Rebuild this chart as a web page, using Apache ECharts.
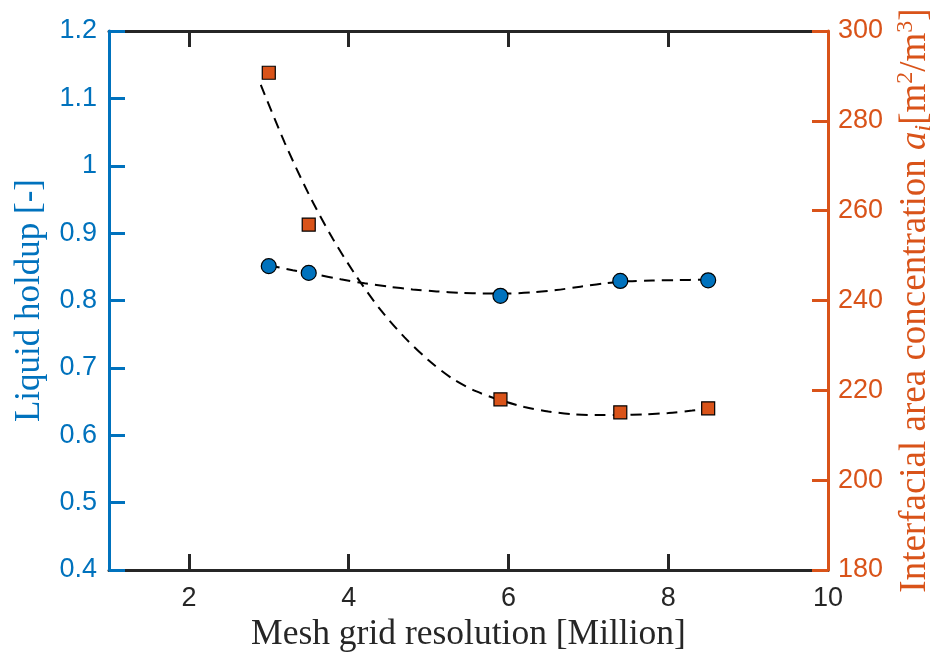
<!DOCTYPE html>
<html>
<head>
<meta charset="utf-8">
<script src="https://cdn.jsdelivr.net/npm/echarts@6/dist/echarts.min.js"></script>
<style>
html,body{margin:0;padding:0;background:#fff;}
#chart{width:931px;height:656px;}
</style>
</head>
<body>
<div id="chart"></div>
<script>
// Measured points
const meshX = [3, 3.5, 5.9, 7.4, 8.5];
const holdup = [0.851, 0.841, 0.807, 0.829, 0.830];
const interfacialArea = [290.7, 256.9, 218.0, 215.1, 216.0];

// Dashed fit curves
const holdupFitX = [3.0, 3.3, 3.6, 3.9, 4.2, 4.5, 4.8, 5.1, 5.4, 5.7, 6.0, 6.3, 6.6, 6.9, 7.2, 7.5, 7.8, 8.1, 8.5];
const holdupFitY = [0.852, 0.845, 0.8385, 0.8315, 0.8255, 0.8205, 0.8165, 0.8135, 0.8115, 0.8105, 0.8105, 0.812, 0.8155, 0.8205, 0.8255, 0.8285, 0.8297, 0.8303, 0.831];
const areaFitX = [2.9, 3.2, 3.5, 3.8, 4.1, 4.4, 4.7, 5.0, 5.3, 5.6, 5.9, 6.2, 6.5, 6.8, 7.1, 7.4, 7.7, 8.0, 8.3, 8.5];
const areaFitY = [288.0, 275.1, 263.7, 253.8, 245.3, 237.9, 231.8, 226.7, 222.6, 219.75, 217.8, 216.3, 215.3, 214.7, 214.5, 214.5, 214.65, 214.95, 215.5, 216.0];

// Axis ticks
const xTicks = [2, 4, 6, 8, 10];

const BLUE = '#0072BD';
const ORANGE = '#D95319';
const DARK = '#262626';
const SANS = '"Liberation Sans", Arial, Helvetica, sans-serif';
const SERIF = '"Liberation Serif", "Times New Roman", serif';

const zip = (xs, ys) => xs.map((x, i) => [x, ys[i]]);

const chart = echarts.init(document.getElementById('chart'), null, {renderer: 'canvas'});
const option = {
  animation: false,
  backgroundColor: '#fff',
  grid: {left: 109, right: 103, top: 31, bottom: 86, containLabel: false, outerBoundsMode: 'none'},
  xAxis: [{
    type: 'value', min: 1, max: 10, position: 'bottom', z: 1,
    splitLine: {show: false},
    axisLine: {show: true, onZero: false, lineStyle: {color: DARK, width: 3}},
    axisTick: {show: true, inside: true, length: 16, lineStyle: {color: DARK, width: 3}, customValues: xTicks},
    axisLabel: {show: true, color: DARK, fontFamily: SANS, fontSize: 27, margin: 15, customValues: xTicks},
    name: 'Mesh grid resolution [Million]',
    nameLocation: 'middle', nameGap: 43,
    nameTextStyle: {color: DARK, fontFamily: SERIF, fontSize: 35.5}
  }, {
    type: 'value', min: 1, max: 10, position: 'top', z: 1,
    splitLine: {show: false},
    axisLine: {show: true, onZero: false, lineStyle: {color: DARK, width: 3}},
    axisTick: {show: true, inside: true, length: 16, lineStyle: {color: DARK, width: 3}, customValues: xTicks},
    axisLabel: {show: false}
  }],
  yAxis: [{
    type: 'value', min: 0.4, max: 1.2, interval: 0.1, position: 'left', z: 3,
    splitLine: {show: false},
    axisLine: {show: true, onZero: false, lineStyle: {color: BLUE, width: 3}},
    axisTick: {show: true, inside: true, length: 16, lineStyle: {color: BLUE, width: 3}},
    axisLabel: {color: BLUE, fontFamily: SANS, fontSize: 27, margin: 12,
      formatter: v => String(Math.round(v * 10) / 10)},
    name: 'Liquid holdup [-]',
    nameLocation: 'middle', nameGap: 62,
    nameTextStyle: {color: BLUE, fontFamily: SERIF, fontSize: 35}
  }, {
    type: 'value', min: 180, max: 300, interval: 20, position: 'right', z: 3,
    splitLine: {show: false},
    axisLine: {show: true, onZero: false, lineStyle: {color: ORANGE, width: 3}},
    axisTick: {show: true, inside: true, length: 16, lineStyle: {color: ORANGE, width: 3}},
    axisLabel: {color: ORANGE, fontFamily: SANS, fontSize: 27, margin: 10},
    name: '{n|Interfacial area concentration }{it|a}{sub|i}{n|[m}{sup|2}{n|/m}{sup|3}{n|]}',
    nameLocation: 'middle', nameGap: 64,
    nameTextStyle: {
      color: ORANGE, fontFamily: SERIF, fontSize: 37,
      rich: {
        n: {color: ORANGE, fontFamily: SERIF, fontSize: 37, lineHeight: 42},
        it: {color: ORANGE, fontFamily: SERIF, fontSize: 37, fontStyle: 'italic', lineHeight: 42},
        sub: {color: ORANGE, fontFamily: SERIF, fontSize: 24, fontStyle: 'italic', verticalAlign: 'bottom', lineHeight: 42},
        sup: {color: ORANGE, fontFamily: SERIF, fontSize: 24, verticalAlign: 'top', lineHeight: 42}
      }
    }
  }],
  series: [{
    type: 'line', xAxisIndex: 0, yAxisIndex: 0, data: zip(holdupFitX, holdupFitY),
    smooth: 0.3, showSymbol: false, symbol: 'none', z: 2,
    lineStyle: {color: '#000', width: 2, type: [11, 7]}
  }, {
    type: 'line', xAxisIndex: 0, yAxisIndex: 1, data: zip(areaFitX, areaFitY),
    smooth: 0.3, showSymbol: false, symbol: 'none', z: 2,
    lineStyle: {color: '#000', width: 2, type: [11, 7]}
  }, {
    type: 'scatter', xAxisIndex: 0, yAxisIndex: 0, data: zip(meshX, holdup),
    symbol: 'circle', symbolSize: 15, z: 4,
    itemStyle: {color: BLUE, borderColor: '#000', borderWidth: 1.2, opacity: 1}
  }, {
    type: 'scatter', xAxisIndex: 0, yAxisIndex: 1, data: zip(meshX, interfacialArea),
    symbol: 'rect', symbolSize: 13, z: 4,
    itemStyle: {color: ORANGE, borderColor: '#000', borderWidth: 1.2, opacity: 1}
  }]
};
chart.setOption(option);
</script>
</body>
</html>
